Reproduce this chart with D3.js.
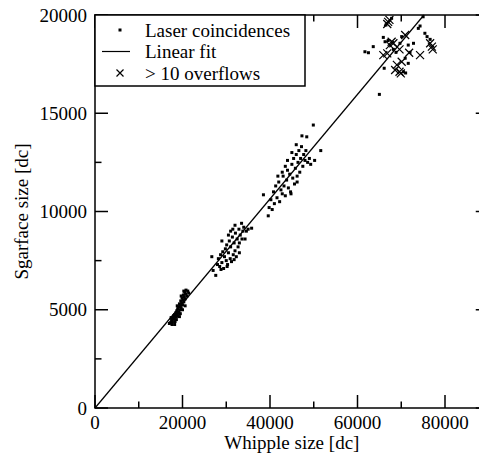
<!DOCTYPE html>
<html>
<head>
<meta charset="utf-8">
<script src="https://cdn.jsdelivr.net/npm/d3@7"></script>
<style>
  body { margin: 0; background: #fff; }
</style>
</head>
<body>
<div id="chart"></div>
<script>
// ========== DATA ==========
// laser coincidences: [whipple size, sgarface size]
const cluster20k = [
  [17000,4300],[17300,4350],[17500,4500],[17700,4400],[17900,4600],[18100,4550],[18200,4750],
  [18400,4700],[18500,4850],[18600,4500],[18700,4950],[18800,4800],[18900,5050],[19000,4700],
  [19100,5150],[19200,4900],[19300,5300],[19400,5000],[19500,5200],[19600,5450],[19700,5100],
  [19800,5350],[19900,5600],[20000,5250],[20100,5500],[20200,5750],[20300,5400],[20400,5650],
  [20500,5900],[20600,5550],[20700,5800],[20800,6000],[21000,5700],[21200,5950],[18000,4700],
  [18300,4400],[18600,4650],[19100,4850],[19500,4800],[20000,5000],[17600,4250],[19700,5700],
  [20300,5950],[21400,5850],[18800,5200],[17400,4600],[18200,4250],[19300,4650],[20600,5200]
];
const cluster30k = [
  [27000,7000],[27600,6750],[26700,7700],[28000,7300],[28200,7600],[28500,7200],[28700,7800],
  [29000,7400],[29200,7950],[29400,7100],[29600,7700],[29800,8100],[30000,7500],[30100,8300],
  [30300,7300],[30500,7900],[30700,8500],[30900,7600],[31000,8200],[31200,7450],[31400,8700],
  [31600,7800],[31800,8400],[32000,8000],[32100,8900],[32300,7700],[32500,8600],[32700,8200],
  [32900,9100],[33000,8400],[33200,8800],[33500,9400],[33600,8600],[33800,9000],[34000,9200],
  [34300,8600],[34600,9000],[35000,9100],[35800,9150],[31000,9000],[32000,9300],[29000,8500],
  [30500,8800],[31500,9100],[28800,7050],[30200,7200],[31800,7550],[33000,7900]
];
const cluster45k = [
  [38500,10850],[39600,9780],[39800,10200],[40200,10600],[40500,10100],[40800,11000],[41000,10400],
  [41300,11300],[41600,10700],[42000,11500],[42200,10500],[42500,11100],[42800,10900],[43000,11800],
  [43200,11300],[43500,10800],[43800,11600],[44000,12100],[44200,11200],[44500,11900],[44700,11000],
  [45000,12400],[45200,11700],[45400,12700],[45600,11400],[45800,12200],[46000,12900],[46200,11800],
  [46400,12500],[46600,13100],[46800,12000],[47000,12700],[47200,13300],[47300,13850],[47500,12300],
  [47700,12900],[48000,12600],[48200,13100],[48400,13800],[48600,12500],[49000,12700],[49300,12400],
  [49900,14400],[50200,12600],[51600,13100],[44000,12600],[45000,13000],[46000,13400],[43500,12300],
  [42800,12000],[44800,10900],[46200,11500],[41800,11800]
];
const cluster70k = [
  [65000,15960],[61700,18130],[62500,18080],[63600,18390],[65900,18860],[66300,18640],[66100,17290],
  [66500,19490],[67800,19830],[70100,18900],[71600,18470],[72800,18560],[73900,19320],[74300,19440],
  [75000,19910],[75400,19070],[75900,18900],[76600,18760],[69700,18560],[68200,18250],[70900,17800],
  [71600,17540],[70500,17110],[71000,17050],[67000,18700],[68800,18100],[72000,18100]
];
// more than 10 overflows
const overflow = [
  [67300,19750],[66800,19540],[67800,18640],[68200,18560],[67400,18470],[69600,18250],[70900,18980],
  [65900,17960],[66800,18050],[71800,18080],[74300,17960],[76600,18560],[77000,18390],[77200,18250],
  [70100,17620],[69000,17460],[68600,17200],[69600,17110],[69900,17030],[67000,19650]
];
const fitSlope = 0.266;
const xTicks = [0, 20000, 40000, 60000, 80000];
const yTicks = [0, 5000, 10000, 15000, 20000];
const legendLabels = ["Laser coincidences", "Linear fit", "> 10 overflows"];

// ========== CHART ==========
const width = 479, height = 456;
const margin = { left: 95, top: 15 };
const plotW = 393.75, plotH = 393;
const serif = "'Liberation Serif', 'Times New Roman', Times, 'DejaVu Serif', serif";
const fontSize = "19px";

const svg = d3.select("#chart").append("svg")
  .attr("width", width)
  .attr("height", height);

const x = d3.scaleLinear().domain([0, 90000]).range([margin.left, margin.left + plotW]);
const y = d3.scaleLinear().domain([0, 20000]).range([margin.top + plotH, margin.top]);

function label(sel) {
  return sel.style("font-family", serif).style("font-size", fontSize).style("fill", "black");
}

const plot = svg.append("g");

// linear fit
plot.append("line")
  .attr("x1", x(0)).attr("y1", y(0))
  .attr("x2", x(20000 / fitSlope)).attr("y2", y(20000))
  .style("stroke", "black")
  .style("stroke-width", 1.2);

// points
const dots = [...cluster20k, ...cluster30k, ...cluster45k, ...cluster70k];
plot.selectAll(".dot")
  .data(dots)
  .join("rect")
  .attr("class", "dot")
  .attr("x", d => x(d[0]) - 1.5)
  .attr("y", d => y(d[1]) - 1.5)
  .attr("width", 3)
  .attr("height", 3)
  .style("fill", "black");

const crossPath = s => `M${-s},${-s}L${s},${s}M${-s},${s}L${s},${-s}`;
plot.selectAll(".cross")
  .data(overflow)
  .join("path")
  .attr("class", "cross")
  .attr("transform", d => `translate(${x(d[0])},${y(d[1])})`)
  .attr("d", crossPath(4))
  .style("stroke", "black")
  .style("stroke-width", 1.2)
  .style("fill", "none");

// frame
svg.append("rect")
  .attr("x", x(0)).attr("y", y(20000))
  .attr("width", plotW).attr("height", plotH)
  .style("fill", "none")
  .style("stroke", "black")
  .style("stroke-width", 1.5);

// axes (ticks pointing inward)
const major = 13, minor = 6.5;
const xMinor = d3.range(10000, 90000, 20000);
const yMinor = d3.range(2500, 20000, 5000);
const tickStyle = sel => sel.style("stroke", "black").style("stroke-width", 1.5);

const axisG = svg.append("g");
[[xTicks, major], [xMinor, minor]].forEach(([vals, len]) => {
  vals.forEach(v => {
    axisG.append("line").attr("x1", x(v)).attr("x2", x(v))
      .attr("y1", y(0)).attr("y2", y(0) - len).call(tickStyle);
    axisG.append("line").attr("x1", x(v)).attr("x2", x(v))
      .attr("y1", y(20000)).attr("y2", y(20000) + len).call(tickStyle);
  });
});
[[yTicks, major], [yMinor, minor]].forEach(([vals, len]) => {
  vals.forEach(v => {
    axisG.append("line").attr("x1", x(0)).attr("x2", x(0) + len)
      .attr("y1", y(v)).attr("y2", y(v)).call(tickStyle);
    axisG.append("line").attr("x1", x(90000)).attr("x2", x(90000) - len)
      .attr("y1", y(v)).attr("y2", y(v)).call(tickStyle);
  });
});

axisG.selectAll(".xlab")
  .data(xTicks)
  .join("text")
  .attr("x", d => x(d))
  .attr("y", y(0) + 21)
  .call(label)
  .style("text-anchor", "middle")
  .text(d => d);

axisG.selectAll(".ylab")
  .data(yTicks)
  .join("text")
  .attr("x", x(0) - 8)
  .attr("y", d => y(d))
  .attr("dy", "0.35em")
  .call(label)
  .style("text-anchor", "end")
  .text(d => d);

svg.append("text")
  .attr("x", (x(0) + x(90000)) / 2)
  .attr("y", 449)
  .call(label)
  .style("text-anchor", "middle")
  .text("Whipple size [dc]");

svg.append("text")
  .attr("transform", `translate(28, ${(y(0) + y(20000)) / 2}) rotate(-90)`)
  .call(label)
  .style("text-anchor", "middle")
  .text("Sgarface size [dc]");

// legend
const legend = svg.append("g").attr("transform", `translate(${x(0)}, ${y(20000)})`);
legend.append("rect")
  .attr("width", 210).attr("height", 71)
  .style("fill", "white")
  .style("stroke", "black")
  .style("stroke-width", 1.5);

legendLabels.forEach((text, i) => {
  const ly = 15 + i * 21.5;
  legend.append("text")
    .attr("x", 50).attr("y", ly)
    .attr("dy", "0.35em")
    .call(label)
    .text(text);
  if (i === 0) {
    legend.append("rect").attr("x", 23.5).attr("y", ly - 1.5)
      .attr("width", 3).attr("height", 3).style("fill", "black");
  } else if (i === 1) {
    legend.append("line").attr("x1", 7).attr("x2", 35)
      .attr("y1", ly).attr("y2", ly)
      .style("stroke", "black").style("stroke-width", 1.2);
  } else {
    legend.append("path")
      .attr("transform", `translate(25, ${ly})`)
      .attr("d", crossPath(3.5))
      .style("stroke", "black").style("stroke-width", 1.2);
  }
});
</script>
</body>
</html>
